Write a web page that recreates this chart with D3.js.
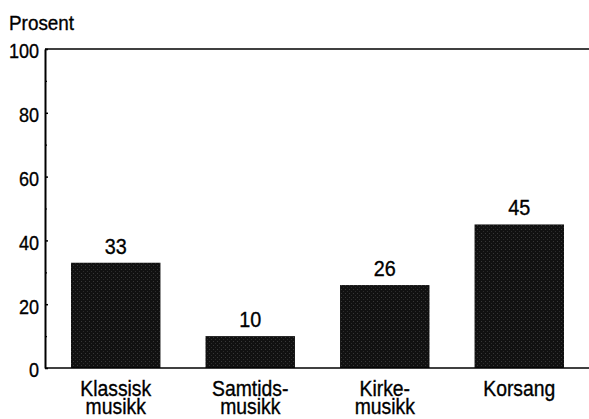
<!DOCTYPE html>
<html><head><meta charset="utf-8">
<script src="https://cdn.jsdelivr.net/npm/d3@7"></script>
<style>
html,body{margin:0;padding:0;background:#fff;}
text{font-family:"Liberation Sans Narrow","Arial Narrow","Liberation Sans",sans-serif;fill:#000;stroke:#000;stroke-width:0.35px;}
</style></head>
<body>
<svg id="c" width="589" height="419"></svg>
<script>
const categories = [["Klassisk","musikk"],["Samtids-","musikk"],["Kirke-","musikk"],["Korsang"]];
const values = [33, 10, 26, 45];
const yTicks = [0, 20, 40, 60, 80, 100];
const yMinorTicks = [10, 30, 50, 70, 90];
const yTitle = "Prosent";

(function(){
const svg = d3.select("#c");
const mLeft = 45, mRight = 589, mTop = 49, mBottom = 368;
const SX = 0.86; // horizontal condensing of the type
const keys = categories.map((c,i)=>i);
const x = d3.scaleBand().domain(keys).range([71, 564]).paddingInner(0.335).paddingOuter(0);
const y = d3.scaleLinear().domain([0,100]).range([mBottom, mTop]);

const defs = svg.append("defs");
const pat = defs.append("pattern").attr("id","tex").attr("width",4).attr("height",4).attr("patternUnits","userSpaceOnUse");
pat.append("rect").attr("width",4).attr("height",4).attr("fill","#111");
pat.append("rect").attr("x",1).attr("y",1).attr("width",1).attr("height",1).attr("fill","#383838");
pat.append("rect").attr("x",3).attr("y",3).attr("width",1).attr("height",1).attr("fill","#2c2c2c");

svg.selectAll("rect.bar").data(values).enter().append("rect")
  .attr("class","bar")
  .attr("x",(d,i)=>x(i)).attr("width",x.bandwidth())
  .attr("y",d=>y(d)).attr("height",d=>y(0)-y(d))
  .attr("fill","url(#tex)");

svg.selectAll("text.val").data(values).enter().append("text")
  .attr("class","val")
  .attr("transform",(d,i)=>`translate(${x(i)+x.bandwidth()/2},${y(d)-9}) scale(0.9,1)`)
  .attr("text-anchor","middle").attr("font-size",22).text(d=>d);

svg.append("line").attr("x1",mLeft).attr("x2",mRight).attr("y1",y(100)).attr("y2",y(100))
  .attr("stroke","#000").attr("stroke-width",1.6);
svg.append("line").attr("x1",mLeft).attr("x2",mRight).attr("y1",y(0)).attr("y2",y(0))
  .attr("stroke","#000").attr("stroke-width",1.6);

const yAxis = d3.axisLeft(y).tickValues(yTicks).tickSize(-3).tickSizeOuter(0).tickPadding(6).tickFormat(d3.format("d"));
const ga = svg.append("g").attr("transform",`translate(${mLeft},0)`).call(yAxis);
ga.attr("font-family",null).attr("font-size",null);
ga.select(".domain").attr("stroke","#000").attr("stroke-width",2);
ga.selectAll(".tick line").attr("stroke","#000").attr("stroke-width",1.5);
ga.selectAll(".tick text").attr("font-size",21).attr("dy","0.42em")
  .attr("x",-6/SX).attr("transform",`scale(${SX},1)`);
const yMinor = d3.axisLeft(y).tickValues(yMinorTicks).tickSize(-2).tickSizeOuter(0).tickFormat("");
const gm = svg.append("g").attr("transform",`translate(${mLeft},0)`).call(yMinor);
gm.select(".domain").remove();
gm.selectAll(".tick line").attr("stroke","#000").attr("stroke-width",1.2);

svg.append("text").attr("transform",`translate(9,30) scale(0.9,1)`).attr("font-size",21).text(yTitle);

const cl = svg.selectAll("text.cat").data(categories).enter().append("text")
  .attr("class","cat").attr("text-anchor","middle").attr("font-size",22)
  .attr("transform",(d,i)=>`translate(${x(i)+x.bandwidth()/2},396) scale(0.88,1)`);
cl.selectAll("tspan").data(d=>d).enter().append("tspan")
  .attr("x",0).attr("dy",(d,j)=>j===0?0:18).text(d=>d);
})();
</script>
</body></html>
